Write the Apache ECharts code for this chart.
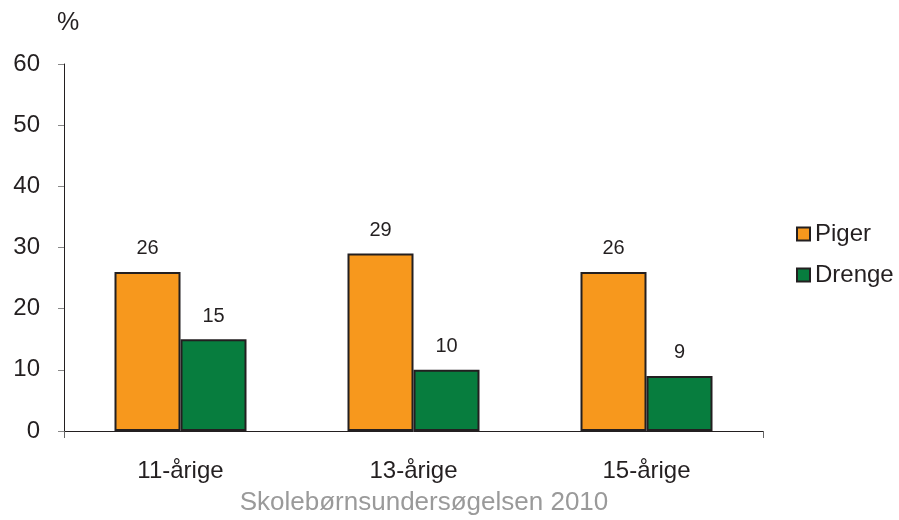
<!DOCTYPE html>
<html><head><meta charset="utf-8">
<script src="https://cdn.jsdelivr.net/npm/echarts@6/dist/echarts.min.js"></script>
<style>html,body{margin:0;padding:0;background:#fff}#c{width:899px;height:520px}</style>
</head><body><div id="c"></div>
<script>
const categories = ['11-årige', '13-årige', '15-årige'];
const piger = [26, 29, 26];
const drenge = [15, 10, 9];
const yTicks = [0, 10, 20, 30, 40, 50, 60];

const chart = echarts.init(document.getElementById('c'), null, {renderer: 'canvas'});
const font = 'Liberation Sans, Arial, sans-serif';
const labelCfg = {show: true, position: 'top', distance: 13, color: '#231F20', fontSize: 20, fontFamily: font};
chart.setOption({
  animation: false,
  textStyle: {fontFamily: font},
  title: [{
    text: 'Skolebørnsundersøgelsen 2010', left: 424, top: 490, textAlign: 'center', padding: 0,
    textStyle: {color: '#9a9a9a', fontSize: 26, fontWeight: 'normal', fontFamily: font}
  }, {
    text: '%', left: 68, top: 11, textAlign: 'center', padding: 0,
    textStyle: {color: '#231F20', fontSize: 25, fontWeight: 'normal', fontFamily: font}
  }],
  legend: {
    orient: 'vertical', left: 796, top: 222, itemGap: 17, padding: 0,
    itemWidth: 13, itemHeight: 13, icon: 'rect',
    itemStyle: {borderColor: '#231F20', borderWidth: 2},
    textStyle: {fontSize: 24, color: '#231F20', fontFamily: font},
    data: ['Piger', 'Drenge']
  },
  grid: {left: 64, right: 136, top: 64, bottom: 89, containLabel: false},
  xAxis: {
    type: 'category', data: categories, boundaryGap: true,
    axisLine: {lineStyle: {color: '#231F20', width: 1}},
    axisTick: {show: true, alignWithLabel: false, length: 7, interval: function (i) { return i === 0; }, lineStyle: {color: '#666'}},
    axisLabel: {fontSize: 24, color: '#231F20', margin: 28, fontFamily: font, interval: 0}
  },
  yAxis: {
    type: 'value', min: yTicks[0], max: yTicks[yTicks.length - 1], interval: 10,
    axisLine: {show: true, lineStyle: {color: '#231F20', width: 1}},
    axisTick: {show: true, length: 6, lineStyle: {color: '#888'}},
    splitLine: {show: false},
    axisLabel: {fontSize: 24, color: '#231F20', margin: 24, fontFamily: font}
  },
  series: [{
    name: 'Piger', type: 'bar', data: piger, barWidth: 66, barGap: '0%',
    itemStyle: {color: '#F7981D', borderColor: '#231F20', borderWidth: 2},
    label: labelCfg
  }, {
    name: 'Drenge', type: 'bar', data: drenge, barWidth: 66,
    itemStyle: {color: '#077D3E', borderColor: '#231F20', borderWidth: 2},
    label: labelCfg
  }]
});
</script></body></html>
